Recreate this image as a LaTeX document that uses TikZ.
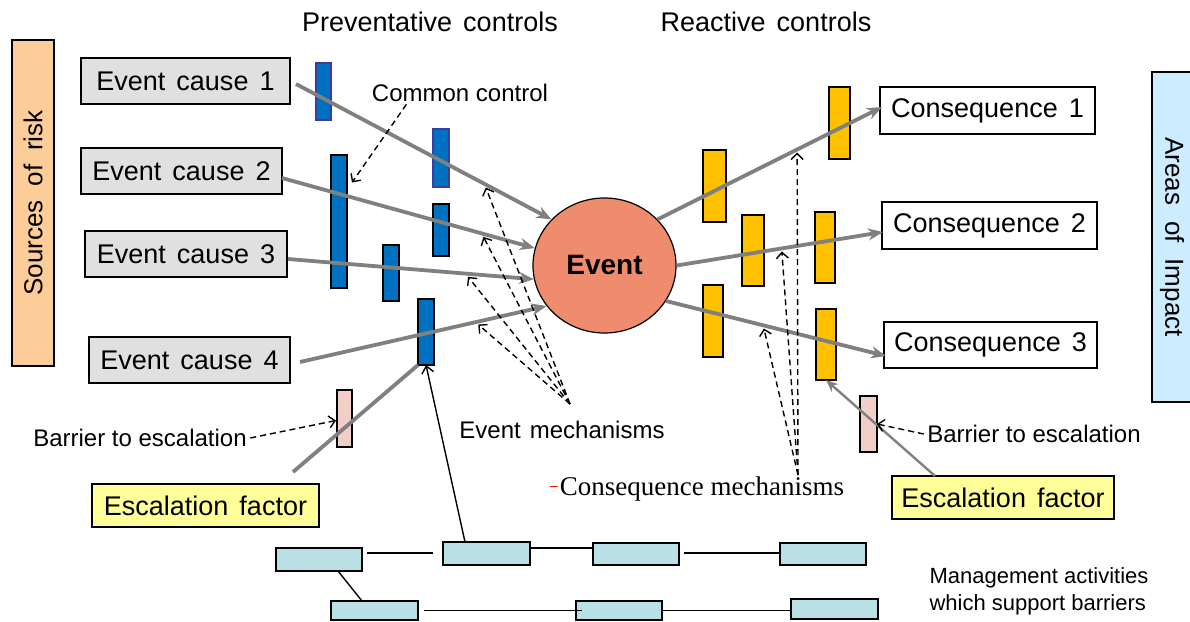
\documentclass[tikz,border=0pt]{standalone}
\usepackage{fontspec}
\setmainfont{Liberation Sans}
\newfontfamily\serifface{Liberation Serif}
\usetikzlibrary{arrows.meta,calc,shapes.geometric}

\definecolor{riskpeach}{RGB}{252,204,153}
\definecolor{impactblue}{RGB}{204,236,255}
\definecolor{causegray}{RGB}{224,224,224}
\definecolor{ctrlblue}{RGB}{0,112,192}
\definecolor{ctrlorange}{RGB}{255,192,0}
\definecolor{eventsalmon}{RGB}{240,140,110}
\definecolor{barrierpink}{RGB}{242,206,200}
\definecolor{escyellow}{RGB}{255,255,153}
\definecolor{mgmtteal}{RGB}{185,224,228}
\definecolor{linegray}{RGB}{128,128,128}
\definecolor{bordpurple}{RGB}{60,60,160}

\newcommand\wsp{\hspace{11pt}}

\begin{document}
\begin{tikzpicture}[x=1pt,y=-1pt,
  big/.style={font=\fontsize{27}{32}\selectfont},
  mid/.style={font=\fontsize{24}{28}\selectfont},
  textbox/.style={draw=black, line width=1.3pt, inner sep=0pt, outer sep=0pt, big},
  causebox/.style={textbox, fill=causegray, minimum height=46pt},
  consbox/.style={textbox, fill=white, minimum height=46pt},
  escbox/.style={textbox, fill=escyellow, minimum height=43pt},
  sidebox/.style={draw=black, line width=1.2pt, inner sep=0pt, outer sep=0pt, font=\fontsize{26}{30}\selectfont},
  barbase/.style={draw=black, line width=1.2pt, inner sep=0pt, outer sep=0pt},
  pbar/.style={barbase, fill=ctrlblue},
  rbar/.style={barbase, fill=ctrlorange},
  ebar/.style={barbase, fill=barrierpink},
  mgmt/.style={draw=black, line width=1.3pt, fill=mgmtteal, inner sep=0pt, outer sep=0pt},
  riskline/.style={draw=linegray, line width=3.8pt, -{Stealth[length=15pt,width=12pt]}},
  riskplain/.style={draw=linegray, line width=3.8pt},
  escline/.style={draw=linegray, line width=2.4pt, -{Stealth[length=12pt,width=10pt]}},
  pointer/.style={draw=black, line width=1.4pt, dash pattern=on 6pt off 4pt, -{Straight Barb[length=6pt,width=12pt]}},
  supportline/.style={draw=black, line width=1.4pt, -{Straight Barb[length=7pt,width=12pt]}},
  link/.style={draw=black, line width=1.4pt}
]
\useasboundingbox (0,0) rectangle (1190,621);

% side panels
\node[sidebox, fill=riskpeach, rotate=90, minimum width=326pt, minimum height=42pt] (src) at (33,203) {Sources\hspace{14pt}of\hspace{14pt}risk};
\node[sidebox, fill=impactblue, rotate=-90, minimum width=330pt, minimum height=40pt] (imp) at (1172,237) {Areas\hspace{16pt}of\hspace{16pt}Impact};

% column titles
\node[big] (tprev) at (430,22) {Preventative\wsp controls};
\node[big] (treac) at (766,22) {Reactive\wsp controls};

% causes
\node[causebox, minimum width=209pt] (c1) at (185.5,81) {Event\wsp cause\wsp 1};
\node[causebox, minimum width=201pt] (c2) at (181.5,171) {Event\wsp cause\wsp 2};
\node[causebox, minimum width=202pt] (c3) at (186,254) {Event\wsp cause\wsp 3};
\node[causebox, minimum width=201pt] (c4) at (189.5,360) {Event\wsp cause\wsp 4};

% consequences
\node[consbox, minimum width=215pt, minimum height=47pt] (q1) at (987.5,110.5) {Consequence\wsp 1};
\node[consbox, minimum width=215pt, minimum height=47pt] (q2) at (989.5,225.5) {Consequence\wsp 2};
\node[consbox, minimum width=213pt] (q3) at (990.5,345) {Consequence\wsp 3};

% escalation factors
\node[escbox, minimum width=227pt] (e1) at (205.5,505.5) {Escalation\wsp factor};
\node[escbox, minimum width=222pt] (e2) at (1003,497.5) {Escalation\wsp factor};

% preventative controls
\node[pbar, draw=bordpurple, minimum width=15pt, minimum height=57pt] (b1) at (323.5,91.5) {};
\node[pbar, minimum width=16pt, minimum height=133pt] (cc) at (339,221.5) {};
\node[pbar, draw=bordpurple, minimum width=16pt, minimum height=58pt] (b2) at (441,158) {};
\node[pbar, minimum width=16pt, minimum height=52pt] (b3) at (441,230) {};
\node[pbar, minimum width=16pt, minimum height=56pt] (b4) at (391,273) {};
\node[pbar, minimum width=16pt, minimum height=66pt] (b5) at (426,332) {};

% reactive controls
\node[rbar, minimum width=23pt, minimum height=72pt] (o1) at (714.5,186) {};
\node[rbar, minimum width=22pt, minimum height=71pt] (o2) at (753,250.5) {};
\node[rbar, minimum width=21pt, minimum height=72pt] (o3) at (839.5,123) {};
\node[rbar, minimum width=20pt, minimum height=71pt] (o4) at (825,247.5) {};
\node[rbar, minimum width=20pt, minimum height=72pt] (o5) at (713,321) {};
\node[rbar, minimum width=20pt, minimum height=71pt] (o6) at (826,344.5) {};

% escalation barriers
\node[ebar, minimum width=15pt, minimum height=57pt] (pl) at (344.5,418.5) {};
\node[ebar, minimum width=17pt, minimum height=56pt] (pr) at (868.5,424) {};

% top event
\node[ellipse, draw=black, line width=1.2pt, fill=eventsalmon, minimum width=143pt, minimum height=135pt, inner sep=0pt,
      font=\fontsize{28}{32}\selectfont\bfseries] (ev) at (604.5,265.5) {Event};

% threat lines into the event
\draw[riskline] ($(c1.east)+(6,3)$) -- coordinate[pos=.743] (m1) (ev.139);
\draw[riskline] ($(c2.east)+(0,7)$) -- coordinate[pos=.797] (m2) (ev.166);
\draw[riskline] ($(c3.east)+(1,5)$) -- coordinate[pos=.732] (m3) (ev.191);
\draw[riskline] ($(c4.east)+(10,2)$) -- coordinate[pos=.723] (m4) (ev.215);

% consequence lines out of the event
\draw[riskline] (ev.41) -- coordinate[pos=.622] (n1) ($(q1.west)+(2,-3.5)$);
\draw[riskline] (ev.0) -- coordinate[pos=.51] (n2) ($(q2.west)+(1,6.5)$);
\draw[riskline] (ev.-30) -- coordinate[pos=.445] (n3) ($(q3.west)+(2,11)$);

% escalation paths
\draw[riskplain] ($(e1.north east)+(-26,-12)$) -- (b5.south west);
\draw[escline] ($(e2.north west)+(43,0)$) -- (o6.south);

% labels
\node[mid] (ctl) at (460,93) {Common control};
\node[mid] (emt) at (562,430) {Event\hspace{9pt}mechanisms};
\node[font=\fontsize{27}{32}\selectfont\serifface] (cmt) at (702,489) {Consequence mechanisms};
\draw[red!80!orange, line width=1pt] ($(cmt.west)+(-6,-3)$) -- ++(8,0);
\node[mid] (bt1) at (140,438) {Barrier to escalation};
\node[mid] (bt2) at (1034,434) {Barrier to escalation};
\node[mid, anchor=west, align=left, font=\fontsize{22}{27}\selectfont] (mat) at (926,591) {Management activities\\which support barriers};

% pointers
\draw[pointer] ($(ctl.south west)+(38,-1)$) -- ($(cc.east)+(5,-39)$);
\coordinate (emo) at (570,404);
\foreach \t in {m1,m2,m3,m4} \draw[pointer] (emo) -- ($(\t)+(0,3)$);
\coordinate (cmo) at (798,475);
\foreach \t in {n1,n2,n3} \draw[pointer] (cmo) -- ($(\t)+(0,3)$);
\draw[pointer] (bt1.east) -- ($(pl.west)+(-1,2)$);
\draw[pointer] (bt2.west) -- (pr.east);

% management activities
\node[mgmt, minimum width=86pt, minimum height=23pt] (ma) at (319,559.5) {};
\node[mgmt, minimum width=87pt, minimum height=23pt] (mb) at (486.5,553.5) {};
\node[mgmt, minimum width=86pt, minimum height=22pt] (mc) at (636,554) {};
\node[mgmt, minimum width=86pt, minimum height=22pt] (md) at (823,554) {};
\node[mgmt, minimum width=87pt, minimum height=19pt] (me) at (374.5,610.5) {};
\node[mgmt, minimum width=86pt, minimum height=19pt] (mf) at (619,610.5) {};
\node[mgmt, minimum width=87pt, minimum height=20pt] (mg) at (834.5,609) {};

\draw[link] ($(ma.east)+(5,-6.5)$) -- ($(mb.west)+(-10,-0.5)$);
\draw[link] ($(mb.east)+(0,-5.5)$) -- ($(mc.west)+(0,-6)$);
\draw[link] ($(mc.east)+(5,-1)$) -- ($(md.west)+(0,-1)$);
\draw[link] ($(ma.south)+(19,0)$) -- ($(me.north)+(-12.5,0)$);
\draw[link] ($(me.east)+(6,0)$) -- ($(mf.west)+(6,0)$);
\draw[link] (mf.east) -- ($(mg.west)+(0,1.5)$);
\draw[supportline] ($(mb.north west)+(22,0)$) -- (b5.south);
\end{tikzpicture}
\end{document}
